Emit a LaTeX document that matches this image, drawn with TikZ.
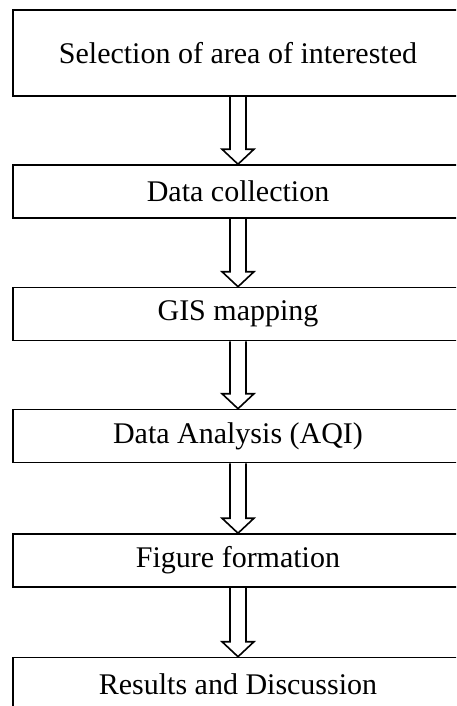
\documentclass[tikz,border=0pt]{standalone}
\usepackage{fontspec}
\setmainfont{Liberation Serif}
\usetikzlibrary{positioning, calc}

\begin{document}
\begin{tikzpicture}[
    x=1pt, y=1pt,
    stage/.style={draw, line width=1.6pt, minimum width=450pt, minimum height=53pt, inner sep=0pt, align=center, font=\fontsize{30}{36}\selectfont},
    hollow/.style={draw, line width=1.6pt, line join=miter}
]
    \useasboundingbox (0,0) rectangle (456,-706);
    \clip (0,0) rectangle (456,-706);

    % Stages
    \node[stage, minimum height=86pt] (sel) at (238,-53) {Selection of area of interested};
    \node[stage] (data) at (238,-191.5) {Data collection};
    \node[stage] (gis) at (238,-314) {GIS mapping};
    \node[stage] (aqi) at (238,-436) {Data Analysis (AQI)};
    \node[stage] (fig) at (238,-560.5) {Figure formation};
    \node[stage] (res) at (238,-684) {Results and Discussion};

    % Block arrows
    \foreach \a/\b in {sel/data, data/gis, gis/aqi, aqi/fig, fig/res}
        \draw[hollow] ([xshift=-8pt]\a.south) -- ([xshift=-8pt, yshift=15pt]\b.north)
            -- ([xshift=-16pt, yshift=15pt]\b.north) -- (\b.north)
            -- ([xshift=16pt, yshift=15pt]\b.north) -- ([xshift=8pt, yshift=15pt]\b.north)
            -- ([xshift=8pt]\a.south);
\end{tikzpicture}
\end{document}
